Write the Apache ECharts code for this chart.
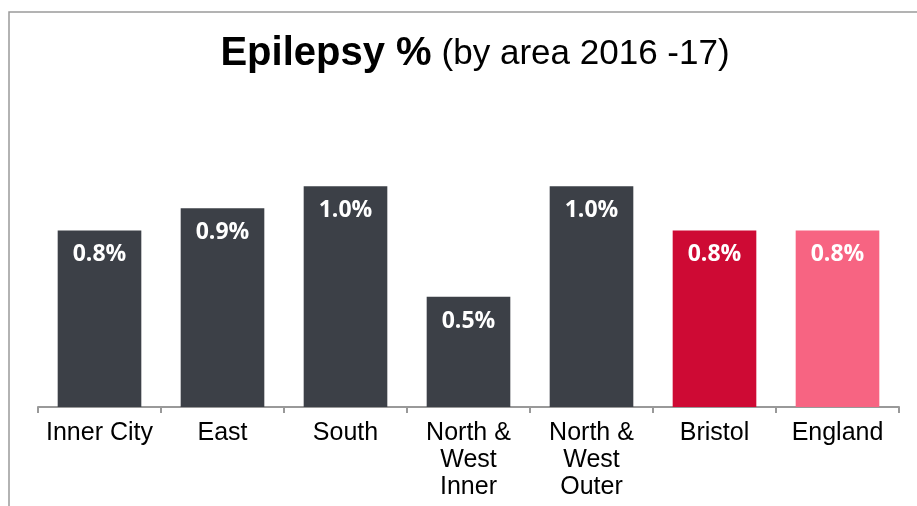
<!DOCTYPE html>
<html><head><meta charset="utf-8">
<script src="https://cdn.jsdelivr.net/npm/echarts@6/dist/echarts.min.js"></script>
<style>html,body{margin:0;padding:0;background:#fff}#c{width:917px;height:506px}</style>
</head><body><div id="c"></div>
<script>
const categories = ["Inner City", "East", "South", "North &\nWest\nInner", "North &\nWest\nOuter", "Bristol", "England"];
const values = [0.8, 0.9, 1.0, 0.5, 1.0, 0.8, 0.8];
const barColors = ["#3C4047", "#3C4047", "#3C4047", "#3C4047", "#3C4047", "#CE0A34", "#F76482"];

const chart = echarts.init(document.getElementById('c'));
chart.setOption({
  backgroundColor: '#fff',
  animation: false,
  graphic: [{
    type: 'rect', shape: {x: 9, y: 12, width: 1000, height: 600},
    style: {fill: 'none', stroke: '#9a9a9a', lineWidth: 1.5}, silent: true
  }],
  title: {
    text: '{b|Epilepsy %}  {n|(by area 2016 -17)}',
    left: 470, textAlign: 'center', top: 29,
    textStyle: {
      rich: {
        b: {fontFamily: 'Liberation Sans, Arial', fontWeight: 'bold', fontSize: 40, color: '#000'},
        n: {fontFamily: 'Liberation Sans, Arial', fontWeight: 'normal', fontSize: 35, color: '#000'}
      }
    }
  },
  grid: {left: 38, right: 18, top: 98, bottom: 99},
  xAxis: {
    type: 'category', data: categories,
    axisLine: {lineStyle: {color: '#999', width: 2}},
    axisTick: {show: true, length: 6, lineStyle: {color: '#999', width: 2}},
    axisLabel: {color: '#000', fontSize: 25, fontFamily: 'Liberation Sans, Arial', lineHeight: 27, margin: 13, interval: 0}
  },
  yAxis: {type: 'value', min: 0, max: 1.4, show: false, splitLine: {show: false}},
  series: [{
    type: 'bar', barWidth: '68%',
    data: values.map((v, i) => ({value: v, itemStyle: {color: barColors[i]}})),
    label: {
      show: true, position: 'insideTop', distance: 13,
      formatter: p => p.value.toFixed(1) + '%',
      color: '#fff', fontWeight: 'bold', fontSize: 23, fontFamily: 'Open Sans'
    }
  }]
});
</script></body></html>
